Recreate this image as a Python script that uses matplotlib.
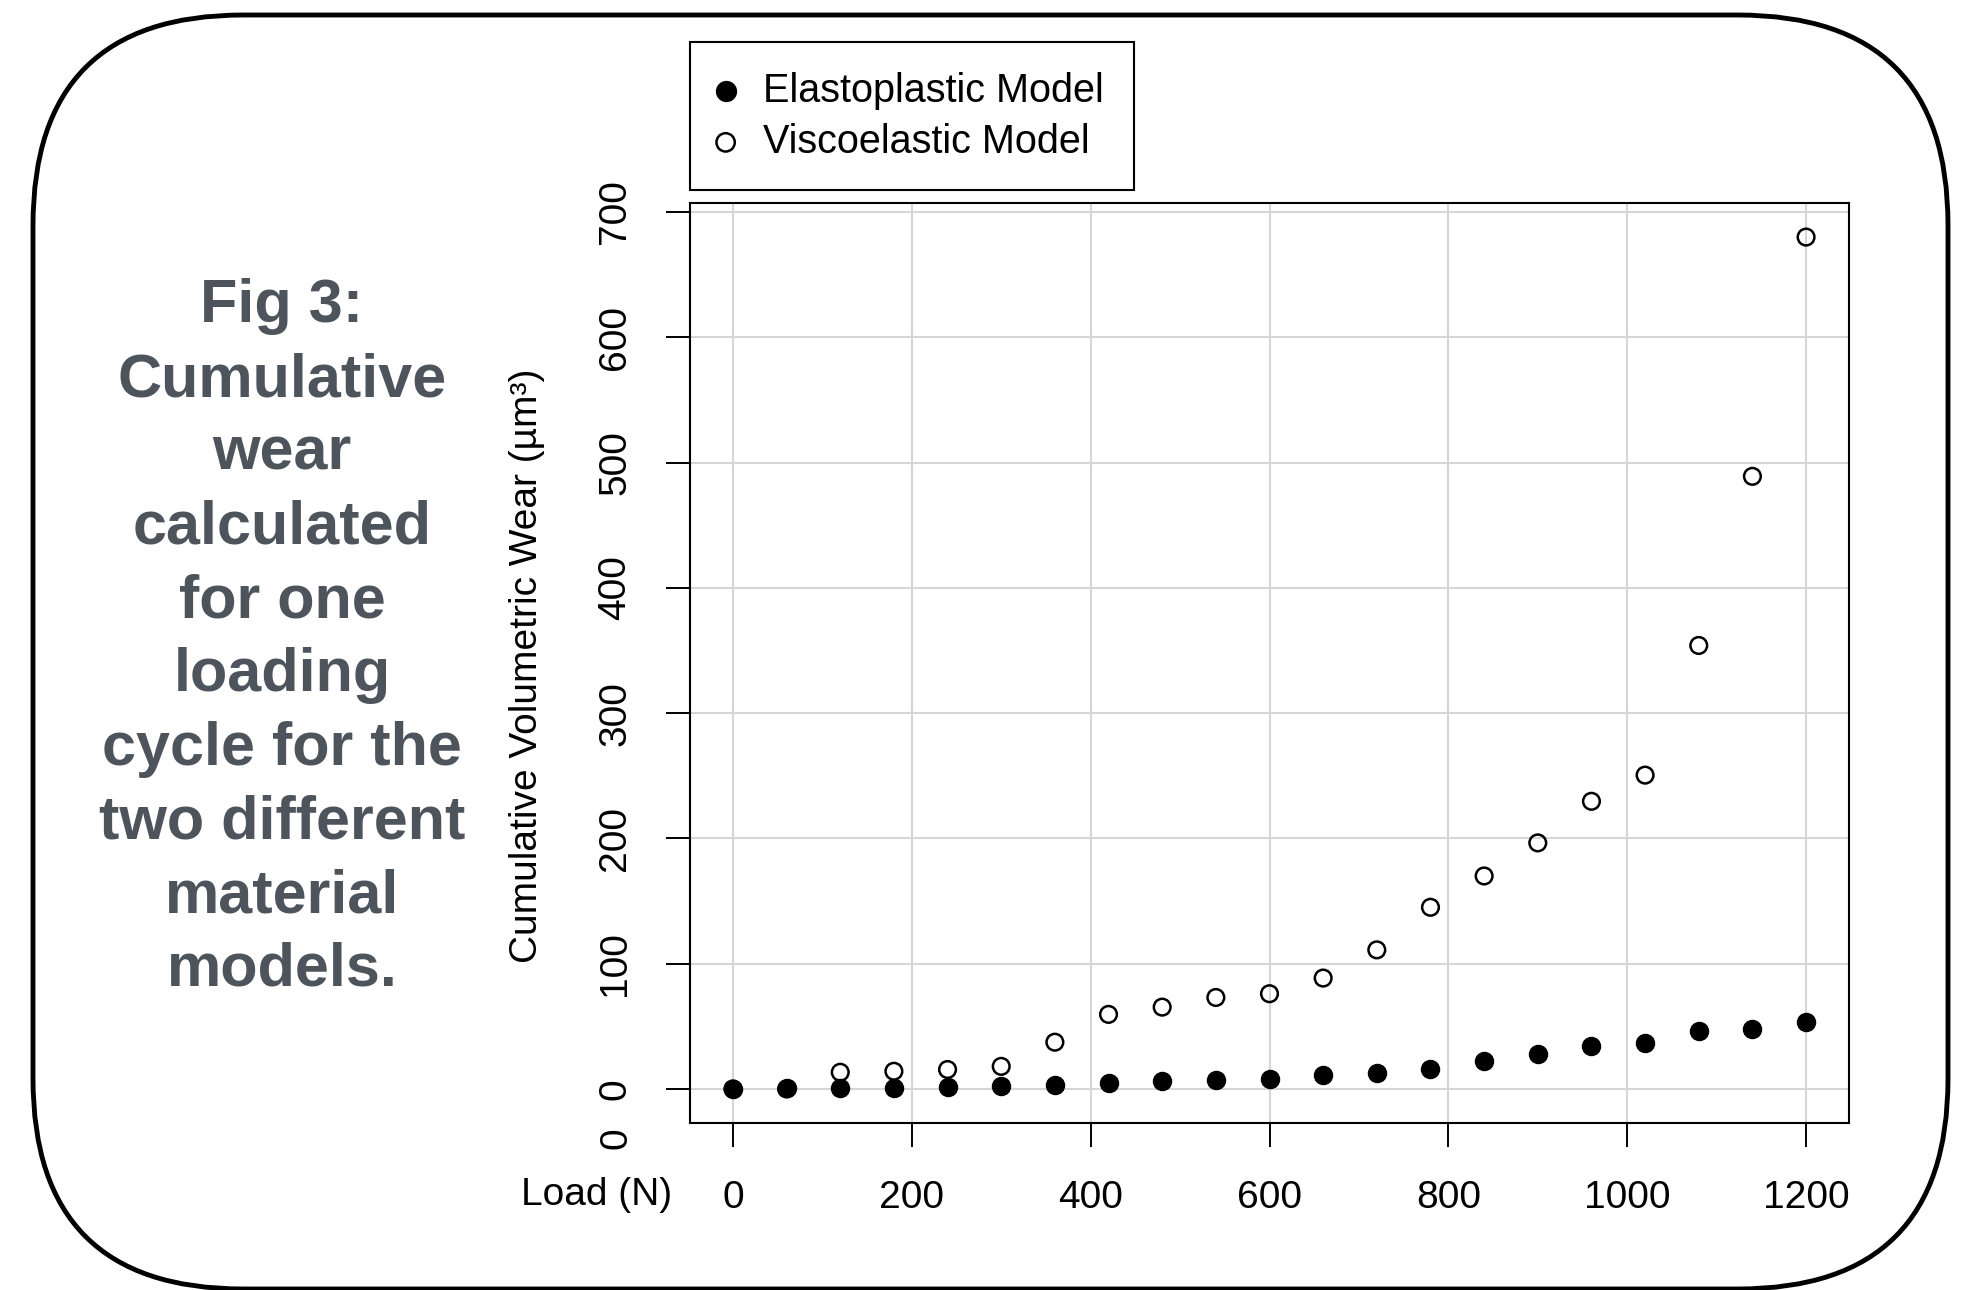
#!/usr/bin/env python

"""
Cumulative wear for the two material models
"""

import matplotlib
matplotlib.use("Agg")
import matplotlib.pyplot as plt
from matplotlib.patches import FancyBboxPatch

# data
load = [0, 60, 120, 180, 240, 300, 360, 420, 480, 540, 600,
        660, 720, 780, 840, 900, 960, 1020, 1080, 1140, 1200]
elastoplastic = [0, 0.8, 0.8, 0.8, 1.3, 2.1, 3.4, 4.8, 6.7, 7.2, 8,
                 11, 12.8, 16, 22, 27.5, 34.2, 36.5, 46.6, 48.2, 53.8]
viscoelastic = [0, 0, 13.3, 14.1, 15.5, 18, 37.3, 59.5, 65.3, 73, 76,
                88.5, 111, 145, 170, 196.4, 229.6, 250.5, 354, 489, 680]
x_ticks = [0, 200, 400, 600, 800, 1000, 1200]
y_ticks = [0, 100, 200, 300, 400, 500, 600, 700]
caption = ["Fig 3:", "Cumulative", "wear", "calculated", "for one",
           "loading", "cycle for the", "two different", "material", "models."]

W, H = 1977, 1290
plt.rcParams["font.family"] = ["Liberation Sans", "DejaVu Sans"]


def px(x, y):
    return x / W, 1 - y / H


def main():
    fig = plt.figure(figsize=(W / 100, H / 100), dpi=100)

    # rounded frame round everything
    bg = fig.add_axes([0, 0, 1, 1])
    bg.set_xlim(0, W)
    bg.set_ylim(H, 0)
    bg.axis("off")
    bg.add_patch(FancyBboxPatch((33, 15), 1915, 1274,
                                boxstyle="round,pad=0,rounding_size=210",
                                fc="white", ec="black", lw=3.5))

    # caption on the left
    for i, line in enumerate(caption):
        fig.text(*px(282, 307 + i * 73.7), line, ha="center", va="center",
                 fontsize=44, fontweight="bold", color="#4d545c")

    l, b = px(690, 1123)
    r, t = px(1849, 203)
    ax = fig.add_axes([l, b, r - l, t - b])
    ax.patch.set_alpha(0)

    ax.scatter(load, viscoelastic, s=12 ** 2, facecolors="none",
               edgecolors="black", linewidths=1.8, zorder=3,
               label="Viscoelastic Model")
    ax.scatter(load, elastoplastic, s=13 ** 2, color="black", zorder=4,
               label="Elastoplastic Model")

    ax.set_xlim(-48, 1248)
    ax.set_ylim(-27.2, 707.2)
    ax.set_xticks(x_ticks)
    ax.set_yticks(y_ticks)
    ax.set_yticklabels([str(v) for v in y_ticks], rotation=90, va="center")
    ax.tick_params(labelsize=28, length=17, width=1.4, pad=24, direction="out")
    ax.grid(True, color="#d6d6d6", lw=1.5, zorder=0)
    ax.set_axisbelow(True)
    for s in ax.spines.values():
        s.set_linewidth(1.5)

    fig.text(*px(597, 1195), "Load (N)", ha="center", va="center", fontsize=28)
    fig.text(*px(617, 1138), "0", ha="center", va="center", fontsize=28,
             rotation=90)
    fig.text(*px(527, 666), "Cumulative Volumetric Wear (\u00b5m\u00b3)",
             ha="center", va="center", fontsize=28, rotation=90)

    h, lab = ax.get_legend_handles_labels()
    leg = ax.legend(h[::-1], lab[::-1], loc="upper left",
                    bbox_to_anchor=px(690, 42), bbox_transform=fig.transFigure,
                    borderaxespad=0, fontsize=28.5, fancybox=False,
                    edgecolor="black", framealpha=1, borderpad=0.75,
                    handlelength=0.3, handletextpad=0.8, labelspacing=0.33,
                    markerscale=1.1)
    leg.get_frame().set_linewidth(1.5)

    fig.savefig("out.png", dpi=100)
    plt.close()


if __name__ == "__main__":
    main()
